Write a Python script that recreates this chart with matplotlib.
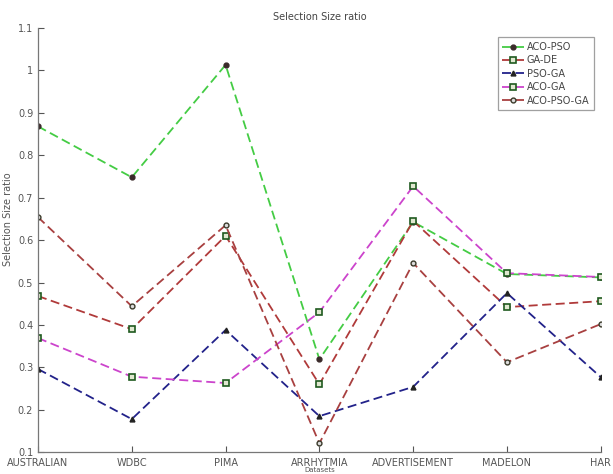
import matplotlib
matplotlib.use('Agg')
import matplotlib.pyplot as plt

datasets = ['AUSTRALIAN', 'WDBC', 'PIMA', 'ARRHYTMIA', 'ADVERTISEMENT', 'MADELON', 'HAR']
aco_pso = [0.868, 0.748, 1.013, 0.319, 0.643, 0.520, 0.512]
ga_de = [0.468, 0.390, 0.610, 0.260, 0.645, 0.442, 0.456]
pso_ga = [0.296, 0.178, 0.388, 0.185, 0.254, 0.475, 0.277]
aco_ga = [0.369, 0.278, 0.263, 0.430, 0.727, 0.522, 0.513]
aco_pso_ga = [0.654, 0.444, 0.635, 0.121, 0.546, 0.312, 0.402]

plt.rcParams['font.family'] = ['Liberation Sans Narrow', 'DejaVu Sans']
plt.rcParams['xtick.direction'] = 'in'
plt.rcParams['ytick.direction'] = 'in'

fig = plt.figure(figsize=(6.13, 4.74), dpi=100)
ax = fig.add_axes([0.062, 0.046, 0.918, 0.895])

x = list(range(len(datasets)))
dash = (5, 2.5)
ax.plot(x, aco_pso, '--o', dashes=dash, color='#44cc44', lw=1.3, ms=3.5, mfc='#3a2a2a', mec='#3a2a2a', label='ACO-PSO')
ax.plot(x, ga_de, '--s', dashes=dash, color='#b03a3a', lw=1.3, ms=4, mfc='#e0e8d0', mec='#1f5a1f', mew=1.2, label='GA-DE')
ax.plot(x, pso_ga, '--^', dashes=dash, color='#22228a', lw=1.3, ms=3.5, mfc='#222222', mec='#222222', label='PSO-GA')
ax.plot(x, aco_ga, '--s', dashes=dash, color='#cc44cc', lw=1.3, ms=4, mfc='#e0e8d0', mec='#1f5a1f', mew=1.2, label='ACO-GA')
ax.plot(x, aco_pso_ga, '--o', dashes=dash, color='#a84040', lw=1.3, ms=3.5, mfc='#dddddd', mec='#3a3a2a', mew=1.0, label='ACO-PSO-GA')

ax.set_xlim(0, len(datasets) - 1)
ax.set_ylim(0.1, 1.1)
ax.set_xticks(x)
ax.set_xticklabels(datasets)
yt = [0.1, 0.2, 0.3, 0.4, 0.5, 0.6, 0.7, 0.8, 0.9, 1.0, 1.1]
ax.set_yticks(yt)
ax.set_yticklabels(['0.1', '0.2', '0.3', '0.4', '0.5', '0.6', '0.7', '0.8', '0.9', '1', '1.1'])
ax.tick_params(labelsize=7, colors='#555555', length=4, width=0.8)
ax.tick_params(axis='x', pad=4)
for s in ['top', 'right']:
    ax.spines[s].set_visible(False)
for s in ['left', 'bottom']:
    ax.spines[s].set_color('#777777')
    ax.spines[s].set_linewidth(0.9)

ax.set_title('Selection Size ratio', fontsize=7, color='#444444', pad=6)
ax.set_ylabel('Selection Size ratio', fontsize=7, color='#555555')
ax.yaxis.set_label_coords(-0.045, 0.55)
# x label sits at the very bottom edge, under the tick labels
fig.text(0.062 + 0.918 / 2, 1 - 469.5 / 474, 'Datasets', fontsize=5, color='#555555',
         ha='center', va='center')

leg = ax.legend(loc='upper right', bbox_to_anchor=(0.997, 0.99), fontsize=7, handlelength=2.2,
                handletextpad=0.3, labelspacing=0.35, borderpad=0.5, fancybox=False)
leg.get_frame().set_edgecolor('#888888')
leg.get_frame().set_linewidth(0.9)
for t in leg.get_texts():
    t.set_color('#444444')

fig.savefig('out.png', dpi=100)
